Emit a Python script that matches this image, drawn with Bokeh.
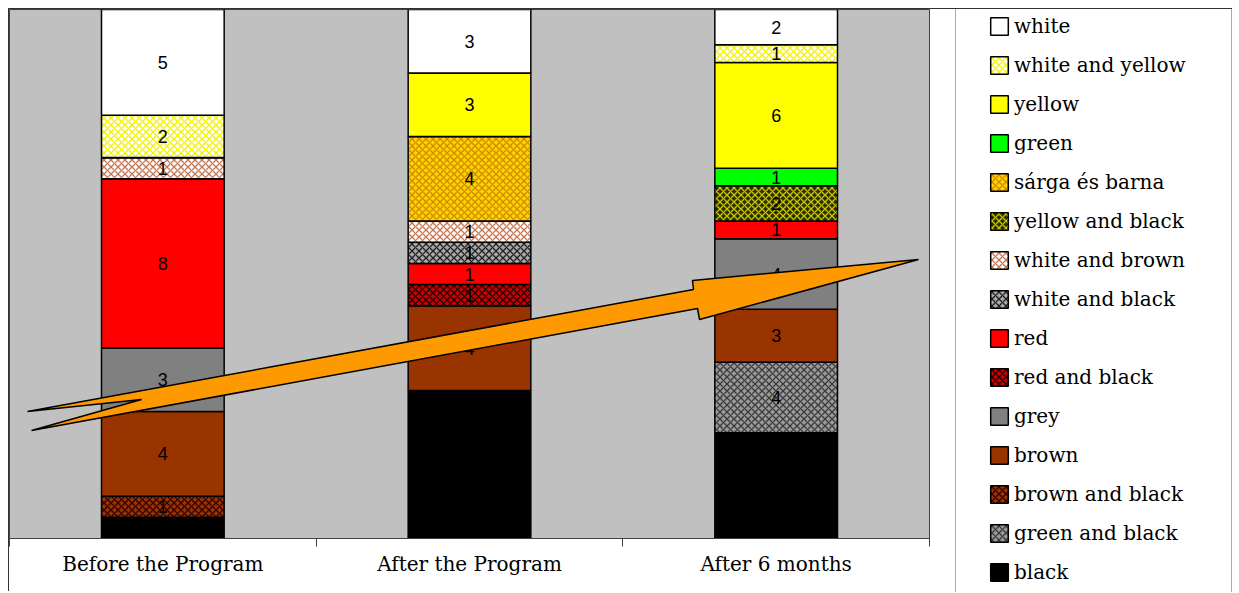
import numpy as np
from bokeh.plotting import figure
from bokeh.layouts import row
from bokeh.models import ColumnDataSource, Range1d, FixedTicker, Legend, LegendItem
from bokeh.core.properties import value
from bokeh.embed import file_html
from bokeh.resources import INLINE

# ---------------- data ----------------
categories = ["Before the Program", "After the Program", "After 6 months"]

# series in stacking order (bottom -> top); counts per category
black            = [1, 7, 6]
green_and_black  = [0, 0, 4]
brown_and_black  = [1, 0, 0]
brown            = [4, 4, 3]
grey             = [3, 0, 4]
red_and_black    = [0, 1, 0]
red              = [8, 1, 1]
white_and_black  = [0, 1, 0]
white_and_brown  = [1, 1, 0]
yellow_and_black = [0, 0, 2]
sarga_es_barna   = [0, 4, 0]
green            = [0, 0, 1]
yellow           = [0, 3, 6]
white_and_yellow = [2, 0, 1]
white            = [5, 3, 2]

series_names = ["black", "green and black", "brown and black", "brown", "grey",
                "red and black", "red", "white and black", "white and brown",
                "yellow and black", "sárga és barna", "green", "yellow",
                "white and yellow", "white"]
series_values = [black, green_and_black, brown_and_black, brown, grey,
                 red_and_black, red, white_and_black, white_and_brown,
                 yellow_and_black, sarga_es_barna, green, yellow,
                 white_and_yellow, white]

# ---------------- styles ----------------
fill_colors = ["#000000", "#9A9A9A", "#993300", "#993300", "#808080",
               "#CC0000", "#FF0000", "#A8A8A8", "#FFFFFF",
               "#2E2E00", "#FFD200", "#00FF00", "#FFFF00",
               "#FFFFFF", "#FFFFFF"]
hatch_patterns = [None, "x", "x", None, None,
                  "x", None, "x", "x",
                  "x", "x", None, None,
                  "x", None]
hatch_colors = ["#000000", "#3A3A3A", "#330000", "#000000", "#000000",
                "#220000", "#000000", "#202020", "#C8744F",
                "#C8C800", "#D08A00", "#000000", "#000000",
                "#F2F200", "#000000"]
HATCH_SCALE, HATCH_WEIGHT = 7, 1.3

# ---------------- derived (percent stacked) ----------------
n = len(categories)
x_pos = np.arange(n) + 0.5
totals = np.sum(np.array(series_values), axis=0)
keys = ["s%d" % i for i in range(len(series_names))]
data = {"x": x_pos}
for k, vals in zip(keys, series_values):
    data[k] = np.array(vals) / totals
src = ColumnDataSource(data)

H = 583
p = figure(width=946, height=H, output_backend="svg", toolbar_location=None,
           x_range=Range1d(0, n), y_range=Range1d(0, 1),
           y_axis_location=None, min_border_left=0, min_border_top=0,
           min_border_right=26, min_border_bottom=54)
p.styles = {"border-top": "1px solid #333333", "border-left": "1px solid #333333"}
p.background_fill_color = "#C0C0C0"
p.border_fill_color = "white"
p.outline_line_color = "#404040"
p.outline_line_width = 1
p.xgrid.visible = False
p.ygrid.visible = False

renderers = p.vbar_stack(keys, x="x", width=0.4, source=src,
                         fill_color=fill_colors, line_color="black", line_width=1.5,
                         hatch_pattern=hatch_patterns, hatch_color=hatch_colors,
                         hatch_scale=HATCH_SCALE, hatch_weight=HATCH_WEIGHT)

# value labels
lx, ly, lt = [], [], []
base = np.zeros(n)
for vals in series_values:
    frac = np.array(vals) / totals
    for i in range(n):
        if vals[i] > 0:
            lx.append(x_pos[i])
            ly.append(base[i] + frac[i] / 2)
            lt.append(str(vals[i]))
    base += frac
p.text(x=lx, y=ly, text=lt, text_font=value("Liberation Sans"), text_font_size="18px",
       text_align="center", text_baseline="middle", text_color="black")

# decorative orange notched arrow, geometry given in page pixels of the frame
fx0, fx1, fy0, fy1 = 9.0, 929.0, 9.0, 538.0
def to_data(px, py):
    return (px - fx0) / (fx1 - fx0) * n, (fy1 - py) / (fy1 - fy0)
arrow_px = [(27, 411), (693, 289), (692, 280), (918, 259), (699, 319),
            (697, 308), (31, 430), (141, 399)]
ax_, ay_ = zip(*[to_data(a, b) for a, b in arrow_px])
p.patch(list(ax_), list(ay_), fill_color="#FF9900", line_color="black", line_width=1.5)

# x axis
p.xaxis.ticker = FixedTicker(ticks=list(x_pos), minor_ticks=list(range(n + 1)))
p.xaxis.major_label_overrides = {float(x): c for x, c in zip(x_pos, categories)}
p.xaxis.major_tick_out = 0
p.xaxis.major_tick_in = 0
p.xaxis.minor_tick_out = 8
p.xaxis.minor_tick_in = 0
p.xaxis.minor_tick_line_color = "#404040"
p.xaxis.axis_line_color = "#404040"
p.xaxis.major_label_text_font = "DejaVu Serif"
p.xaxis.major_label_text_font_size = "20px"
p.xaxis.major_label_text_color = "black"
p.xaxis.major_label_standoff = 5

# ---------------- legend panel ----------------
q = figure(width=278, height=H, output_backend="svg", toolbar_location=None,
           x_range=Range1d(0, 1), y_range=Range1d(0, 1),
           x_axis_location=None, y_axis_location=None, min_border=0)
try:
    q.frame_align = False
except Exception:
    pass
q.styles = {"border-top": "1px solid #333333"}
q.outline_line_color = None
q.background_fill_color = "white"
q.border_fill_color = "white"
q.xgrid.visible = False
q.ygrid.visible = False
swatches = []
for i in range(len(series_names)):
    # swatch renderer: one off-range point, only its legend glyph is visible
    r = q.vbar(x=[5.0], top=[1.0], width=0.1, fill_color=fill_colors[i], line_color="black",
               line_width=1.5, hatch_pattern=hatch_patterns[i], hatch_color=hatch_colors[i],
               hatch_scale=HATCH_SCALE, hatch_weight=HATCH_WEIGHT)
    swatches.append(r)

items = [LegendItem(label=series_names[i], renderers=[swatches[i]])
         for i in range(len(series_names) - 1, -1, -1)]
legend = Legend(items=items, location=(1, -25), orientation="vertical",
                padding=32, spacing=15, glyph_width=22, glyph_height=22,
                label_height=24, label_width=185, label_standoff=4,
                label_text_font="DejaVu Serif", label_text_font_size="20px",
                label_text_color="black", background_fill_color="white",
                background_fill_alpha=1.0, border_line_color="#555555",
                border_line_width=1.5, margin=0)
q.add_layout(legend, "center")

layout = row(p, q, margin=(8, 0, 0, 8))
open("out.html", "w").write(file_html(layout, INLINE))
